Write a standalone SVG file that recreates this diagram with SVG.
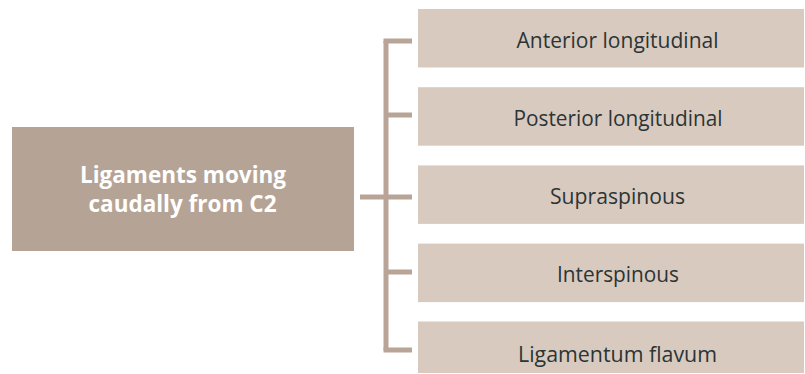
<svg xmlns="http://www.w3.org/2000/svg" width="805" height="374" viewBox="0 0 805 374">
<style>
.item{fill:#d9cac0}
.main{fill:#b5a495}
.t{font-family:"Open Sans","Noto Sans",sans-serif;font-size:22px;font-weight:400;fill:#2b3535;text-anchor:middle}
.tb{font-family:"Open Sans","Noto Sans",sans-serif;font-size:23px;font-weight:bold;fill:#ffffff;text-anchor:middle}
.c{stroke:#b9a597;stroke-width:5;fill:none}
</style>
<rect width="805" height="374" fill="#ffffff"/>
<g id="root">
<rect class="main" x="12" y="127" width="342" height="124"/>
<text class="tb" x="183" y="183" textLength="206" lengthAdjust="spacingAndGlyphs">Ligaments moving</text>
<text class="tb" x="182.5" y="212" textLength="188" lengthAdjust="spacingAndGlyphs">caudally from C2</text>
</g>
<g id="connectors">
<line class="c" x1="386" y1="41" x2="386" y2="350"/>
<line class="c" x1="360" y1="197" x2="412" y2="197"/>
<line class="c" x1="383.5" y1="41" x2="412" y2="41"/>
<line class="c" x1="386" y1="115" x2="412" y2="115"/>
<line class="c" x1="386" y1="272" x2="412" y2="272"/>
<line class="c" x1="383.5" y1="350" x2="412" y2="350"/>
</g>
<g id="n1"><rect class="item" x="418" y="9" width="386" height="58.5"/><text class="t" x="617.5" y="47.5" textLength="202" lengthAdjust="spacingAndGlyphs">Anterior longitudinal</text></g>
<g id="n2"><rect class="item" x="418" y="87.2" width="386" height="58.5"/><text class="t" x="618" y="125.7" textLength="209" lengthAdjust="spacingAndGlyphs">Posterior longitudinal</text></g>
<g id="n3"><rect class="item" x="418" y="165.4" width="386" height="58.5"/><text class="t" x="617.5" y="203.9" textLength="135" lengthAdjust="spacingAndGlyphs">Supraspinous</text></g>
<g id="n4"><rect class="item" x="418" y="243.6" width="386" height="58.5"/><text class="t" x="618" y="282.1" textLength="122" lengthAdjust="spacingAndGlyphs">Interspinous</text></g>
<g id="n5"><rect class="item" x="418" y="321.5" width="386" height="51.5"/><text class="t" x="617.5" y="361.5" textLength="199" lengthAdjust="spacingAndGlyphs">Ligamentum flavum</text></g>
</svg>
